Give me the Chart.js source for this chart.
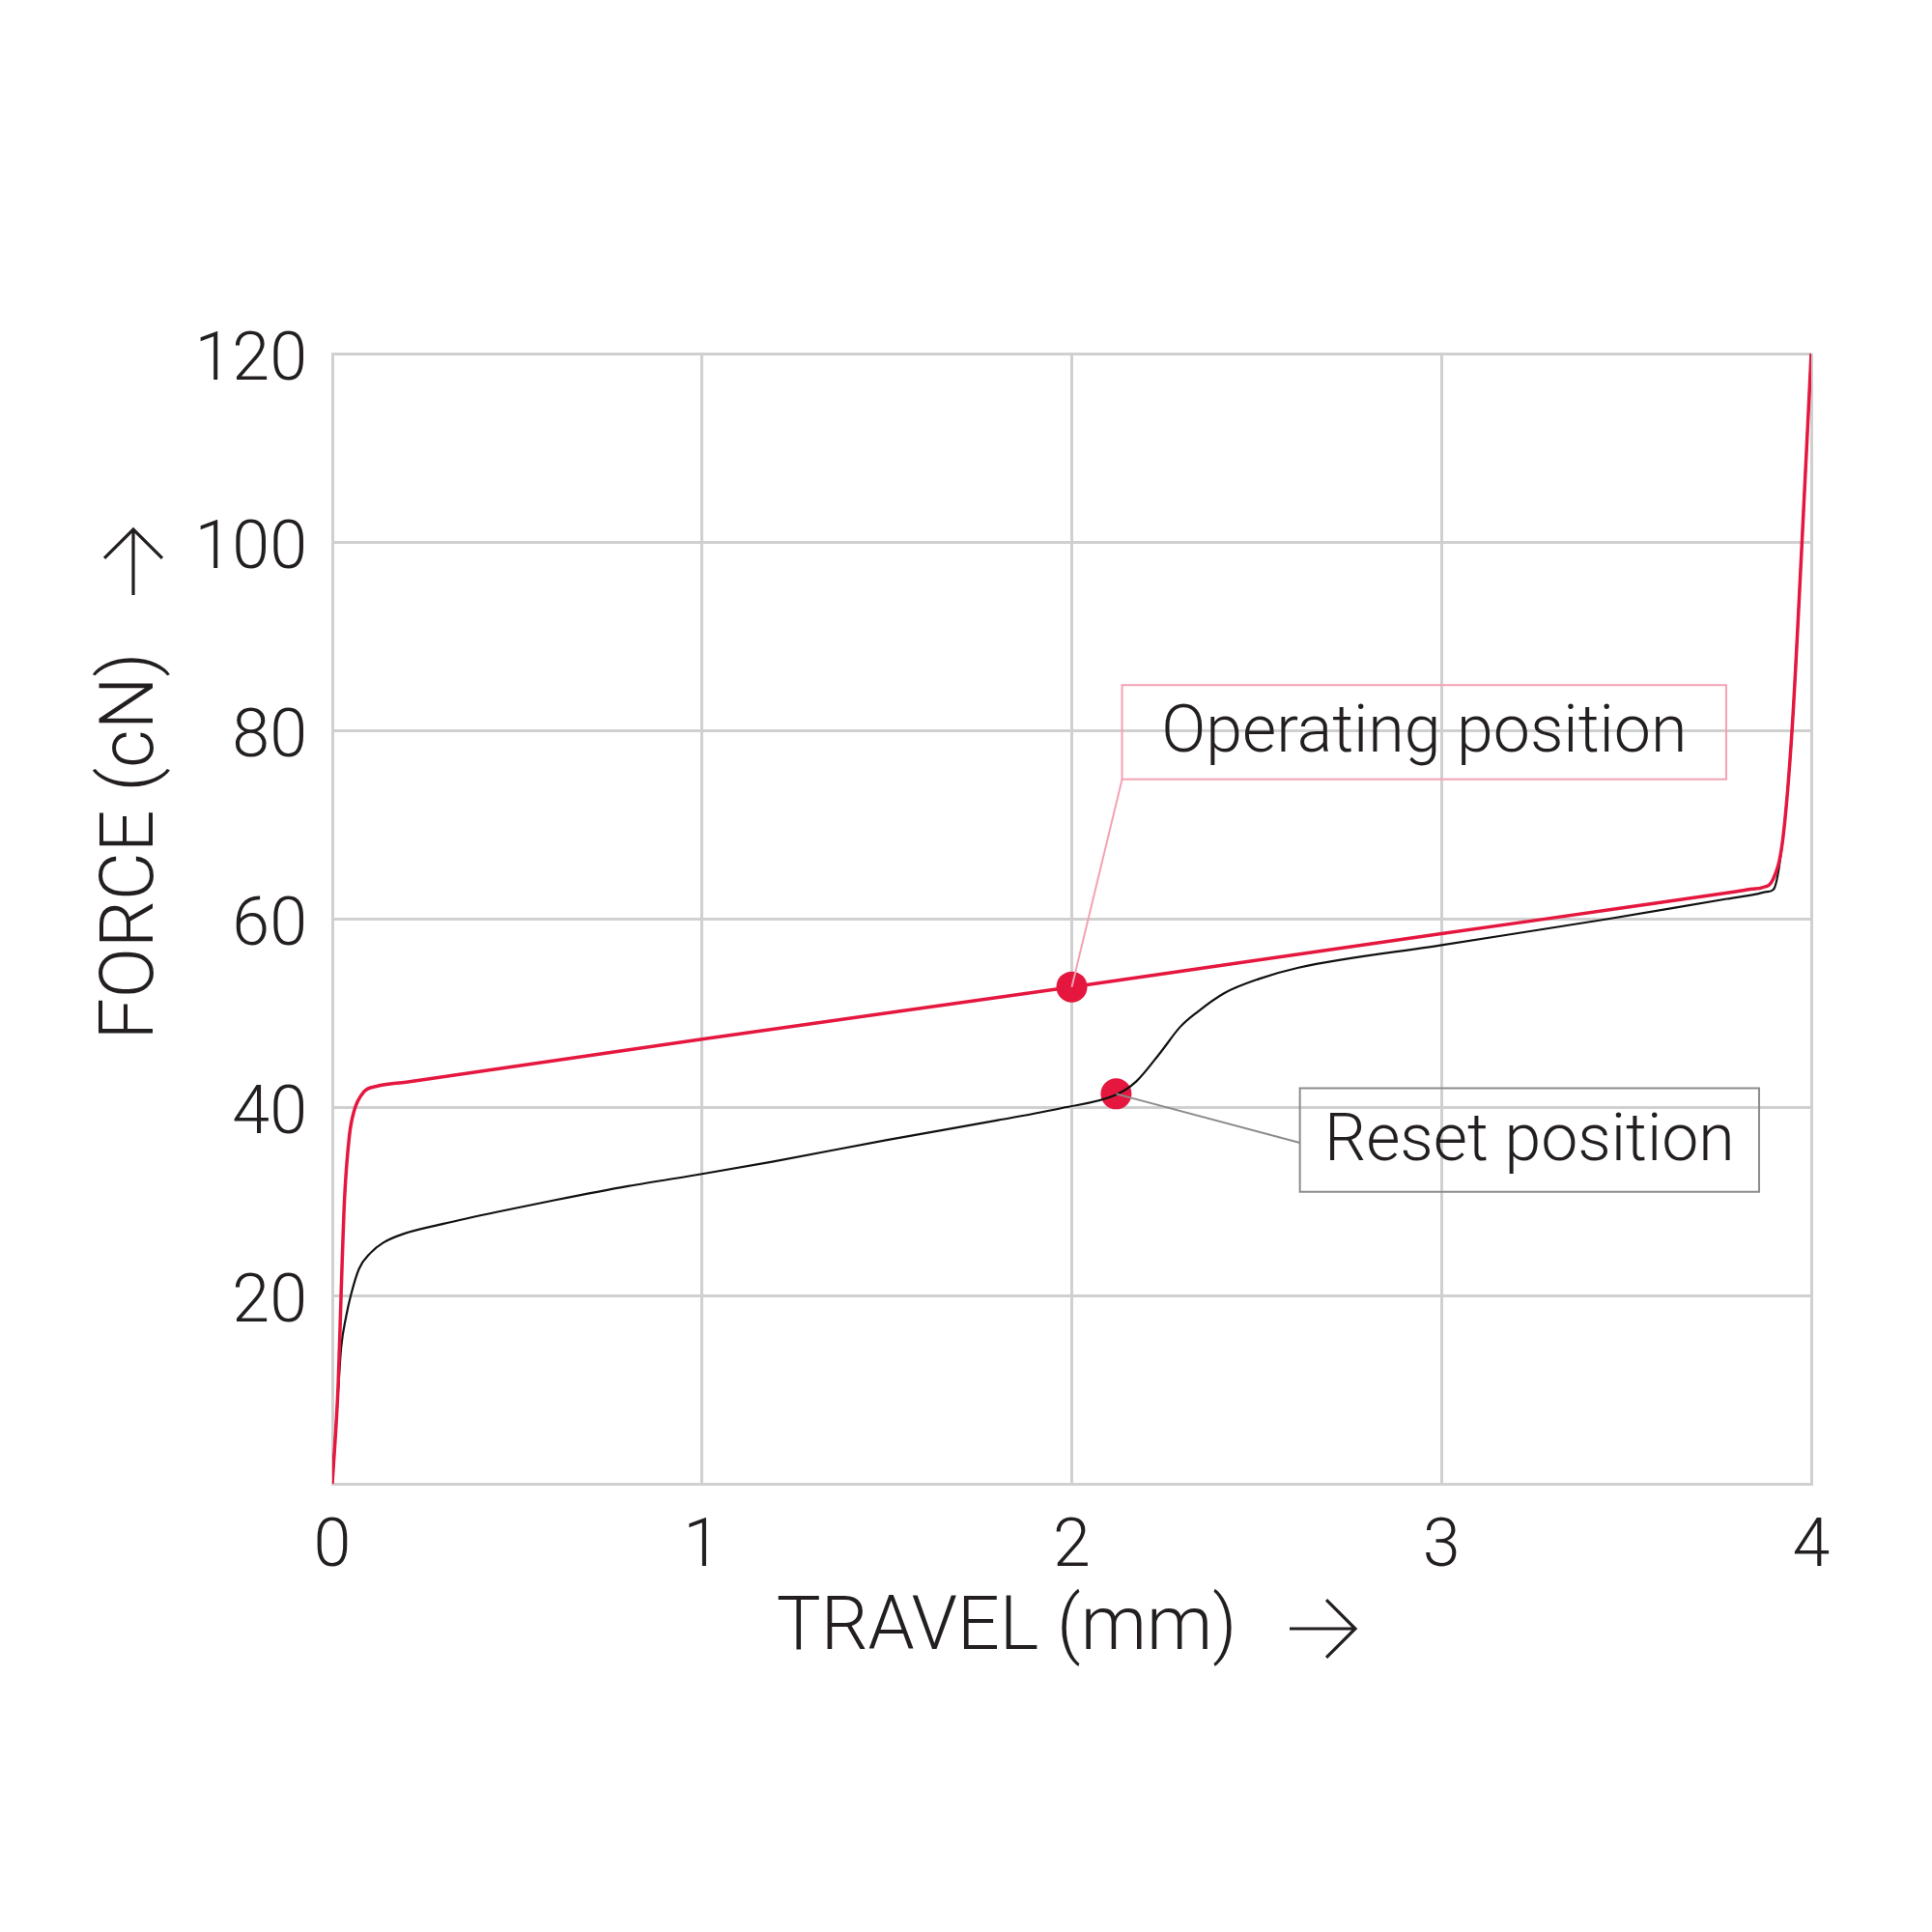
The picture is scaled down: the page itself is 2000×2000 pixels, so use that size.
<!DOCTYPE html>
<html><head><meta charset="utf-8">
<script src="https://cdn.jsdelivr.net/npm/chart.js@4/dist/chart.umd.min.js"></script>
<style>html,body{margin:0;padding:0;background:#fff}#wrap{width:2000px;height:2000px}</style>
</head><body><div id="wrap"><canvas id="c" width="2000" height="2000"></canvas></div>
<script>
// ---- data ----
const operatingTravel = [0, 0.016, 0.024, 0.033, 0.046, 0.059, 0.085, 0.12, 0.2, 1.0, 2.0, 3.0, 3.5, 3.8, 3.84, 3.867, 3.897, 3.923, 3.948, 3.975, 4.0];
const operatingForce  = [0, 10.6, 20.4, 30.2, 36.9, 39.6, 41.6, 42.2, 42.65, 47.2, 52.75, 58.4, 61.2, 62.9, 63.15, 63.3, 64.2, 68.4, 80.0, 100.0, 120.0];
const resetTravel = [0, 0.008, 0.016, 0.024, 0.037, 0.05, 0.072, 0.103, 0.138, 0.19, 0.3, 0.45, 0.6, 0.8, 1.0, 1.19, 1.5, 1.8, 1.974, 2.12, 2.174, 2.24, 2.293, 2.34, 2.413, 2.506, 2.613, 3.0, 3.439, 3.772, 3.85, 3.88, 3.898, 3.923, 3.948, 3.975, 4.0];
const resetForce  = [0, 5.0, 10.0, 14.5, 17.7, 20.0, 22.8, 24.5, 25.6, 26.5, 27.6, 28.9, 30.1, 31.6, 32.9, 34.2, 36.5, 38.6, 39.9, 41.3, 42.7, 45.8, 48.5, 50.1, 52.1, 53.6, 54.8, 57.2, 59.9, 62.1, 62.6, 62.85, 63.1, 68.4, 80.0, 100.0, 120.0];
const operatingPoint = [2.0, 52.75];
const resetPoint = [2.12, 41.4];
const xTicks = [0, 1, 2, 3, 4];
const yTicks = [20, 40, 60, 80, 100, 120];
const xTitle = 'TRAVEL (mm)';
const yTitle = 'FORCE (cN)';
const operatingLabel = 'Operating position';
const resetLabel = 'Reset position';

// ---- styles / layout ----
const RED = '#e5173f';
const GRID = '#d0d0d0';
const TEXT = '#231f20';
const LABEL_FONT = 'Roboto, "Liberation Sans", sans-serif';
// annotation boxes in data units [xLeft, yTop, xRight, yBottom]
const opBox = [2.136, 84.8, 3.77, 74.8];
const resetBox = [2.617, 42.0, 3.859, 31.0];

const toPts = (xs, ys) => xs.map((v, i) => ({x: v, y: ys[i]}));

function arrow(ctx, x1, y1, x2, y2, head) {
  const a = Math.atan2(y2 - y1, x2 - x1);
  const h = head * 1.06;
  ctx.beginPath();
  ctx.moveTo(x1, y1); ctx.lineTo(x2, y2);
  ctx.moveTo(x2 - h * Math.cos(a - Math.PI / 4), y2 - h * Math.sin(a - Math.PI / 4));
  ctx.lineTo(x2, y2);
  ctx.lineTo(x2 - h * Math.cos(a + Math.PI / 4), y2 - h * Math.sin(a + Math.PI / 4));
  ctx.stroke();
}

const decor = {
  id: 'decor',
  afterDatasetsDraw(chart) {
    const {ctx, scales: {x, y}} = chart;
    ctx.save();
    // operating box
    const ox1 = x.getPixelForValue(opBox[0]), oy1 = y.getPixelForValue(opBox[1]);
    const ox2 = x.getPixelForValue(opBox[2]), oy2 = y.getPixelForValue(opBox[3]);
    ctx.strokeStyle = '#f4a2b3'; ctx.lineWidth = 2;
    ctx.strokeRect(ox1, oy1, ox2 - ox1, oy2 - oy1);
    ctx.beginPath();
    ctx.moveTo(ox1, oy2);
    ctx.lineTo(x.getPixelForValue(operatingPoint[0]), y.getPixelForValue(operatingPoint[1]));
    ctx.stroke();
    // reset box
    const rx1 = x.getPixelForValue(resetBox[0]), ry1 = y.getPixelForValue(resetBox[1]);
    const rx2 = x.getPixelForValue(resetBox[2]), ry2 = y.getPixelForValue(resetBox[3]);
    ctx.strokeStyle = '#8c8c8c'; ctx.lineWidth = 2;
    ctx.strokeRect(rx1, ry1, rx2 - rx1, ry2 - ry1);
    ctx.beginPath();
    ctx.moveTo(rx1, y.getPixelForValue(36.2));
    ctx.lineTo(x.getPixelForValue(resetPoint[0]), y.getPixelForValue(resetPoint[1]));
    ctx.stroke();
    // labels
    ctx.fillStyle = TEXT;
    ctx.textAlign = 'center';
    ctx.textBaseline = 'alphabetic';
    ctx.font = '300 68px ' + LABEL_FONT;
    ctx.fillText(operatingLabel, (ox1 + ox2) / 2, (oy1 + oy2) / 2 + 20);
    ctx.fillText(resetLabel, (rx1 + rx2) / 2, (ry1 + ry2) / 2 + 21);
    // axis titles
    ctx.font = '300 77px ' + LABEL_FONT;
    ctx.fillText(xTitle, 1042, 1707);
    ctx.save();
    ctx.translate(158, 876);
    ctx.rotate(-Math.PI / 2);
    ctx.fillText(yTitle, 0, 0);
    ctx.restore();
    // arrows
    ctx.strokeStyle = TEXT; ctx.lineWidth = 3.2; ctx.lineCap = 'butt'; ctx.lineJoin = 'miter';
    arrow(ctx, 1335, 1686, 1403, 1686, 40);
    arrow(ctx, 138, 616, 138, 548, 40);
    ctx.restore();
  }
};

new Chart(document.getElementById('c'), {
  type: 'line',
  data: {
    datasets: [
      {label: 'Operating', data: toPts(operatingTravel, operatingForce), borderColor: RED, borderWidth: 3.5,
       pointRadius: 0, cubicInterpolationMode: 'monotone', fill: false, order: 0},
      {label: 'Reset', data: toPts(resetTravel, resetForce), borderColor: '#111111', borderWidth: 2.2,
       pointRadius: 0, cubicInterpolationMode: 'monotone', fill: false, order: 1},
      {label: 'Points', data: [{x: operatingPoint[0], y: operatingPoint[1]}, {x: resetPoint[0], y: resetPoint[1]}],
       showLine: false, pointRadius: 16, pointBackgroundColor: RED, pointBorderWidth: 0, order: 2}
    ]
  },
  options: {
    responsive: false, animation: false, devicePixelRatio: 1,
    layout: {padding: {left: 0, top: 366, right: 125, bottom: 0}},
    plugins: {legend: {display: false}, tooltip: {enabled: false}},
    scales: {
      x: {
        type: 'linear', min: 0, max: 4,
        afterBuildTicks: s => { s.ticks = xTicks.map(v => ({value: v})); },
        afterFit: s => { s.height = 464; },
        ticks: {color: TEXT, font: {family: LABEL_FONT, size: 70, weight: '300'}, padding: 25, maxRotation: 0},
        grid: {color: GRID, lineWidth: 3, drawTicks: false},
        border: {color: GRID, width: 3}
      },
      y: {
        type: 'linear', min: 0, max: 120,
        afterBuildTicks: s => { s.ticks = yTicks.map(v => ({value: v})); },
        afterFit: s => { s.width = 344; },
        ticks: {color: TEXT, font: {family: LABEL_FONT, size: 70, weight: '300'}, padding: 26, labelOffset: 9},
        grid: {color: GRID, lineWidth: 3, drawTicks: false},
        border: {color: GRID, width: 3}
      }
    }
  },
  plugins: [decor]
});
</script></body></html>
